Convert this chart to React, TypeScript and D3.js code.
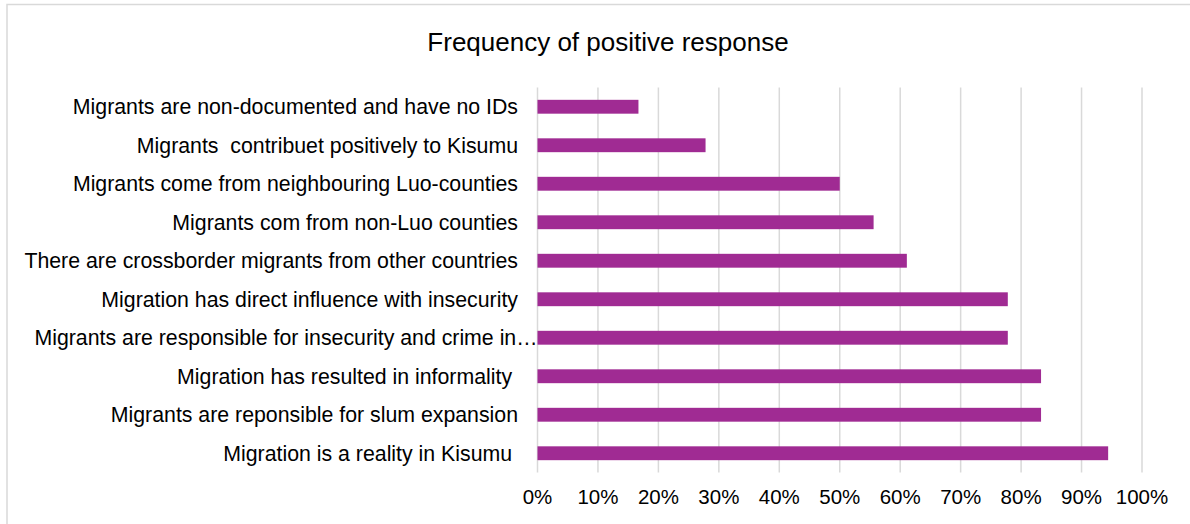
import React from "react";
import * as d3 from "d3";

const categories: string[] = [
  "Migrants are non-documented and have no IDs",
  "Migrants  contribuet positively to Kisumu",
  "Migrants come from neighbouring Luo-counties",
  "Migrants com from non-Luo counties",
  "There are crossborder migrants from other countries",
  "Migration has direct influence with insecurity",
  "Migrants are responsible for insecurity and crime in…",
  "Migration has resulted in informality ",
  "Migrants are reponsible for slum expansion",
  "Migration is a reality in Kisumu ",
];
const values: number[] = [16.7, 27.8, 50, 55.6, 61.1, 77.8, 77.8, 83.3, 83.3, 94.4];
const ticks: number[] = [0, 10, 20, 30, 40, 50, 60, 70, 80, 90, 100];
const title = "Frequency of positive response";

const W = 1190;
const H = 524;
const FONT = "'Liberation Sans', Arial, sans-serif";
const BAR = "#A02B93";
const GRID = "#D9D9D9";

export default function App() {
  const x = d3.scaleLinear().domain([0, 100]).range([537.5, 1142]);
  const y = d3
    .scaleBand<string>()
    .domain(categories)
    .range([87.5, 472.5])
    .paddingInner(0.64)
    .paddingOuter(0.32);
  const labelX = 518;

  return (
    <svg
      width={W}
      height={H}
      style={{ position: "absolute", left: 0, top: 0, background: "#fff" }}
      fontFamily={FONT}
    >
      <rect x={0} y={0} width={W} height={H} fill="#fff" />
      <rect
        x={7}
        y={4.5}
        width={W + 20}
        height={H + 20}
        fill="none"
        stroke={GRID}
        strokeWidth={1.5}
      />
      <text x={608} y={51} textAnchor="middle" fontSize={26} fill="#000">
        {title}
      </text>
      {ticks.map((t) => (
        <line
          key={"g" + t}
          x1={x(t)}
          x2={x(t)}
          y1={87.5}
          y2={472.5}
          stroke={GRID}
          strokeWidth={1.5}
        />
      ))}
      {categories.map((c, i) => (
        <rect
          key={"b" + i}
          x={x(0)}
          y={y(c)!}
          width={x(values[i]) - x(0)}
          height={y.bandwidth()}
          fill={BAR}
        />
      ))}
      {categories.map((c, i) => (
        <text
          key={"l" + i}
          x={c.endsWith("…") ? x(0) : labelX}
          y={y(c)! + y.bandwidth() / 2}
          dy="0.36em"
          textAnchor="end"
          fontSize={21.3}
          fill="#000"
          style={{ whiteSpace: "pre" }}
        >
          {c}
        </text>
      ))}
      {ticks.map((t) => (
        <text
          key={"t" + t}
          x={x(t)}
          y={504}
          textAnchor="middle"
          fontSize={20.5}
          fill="#000"
        >
          {t + "%"}
        </text>
      ))}
    </svg>
  );
}
